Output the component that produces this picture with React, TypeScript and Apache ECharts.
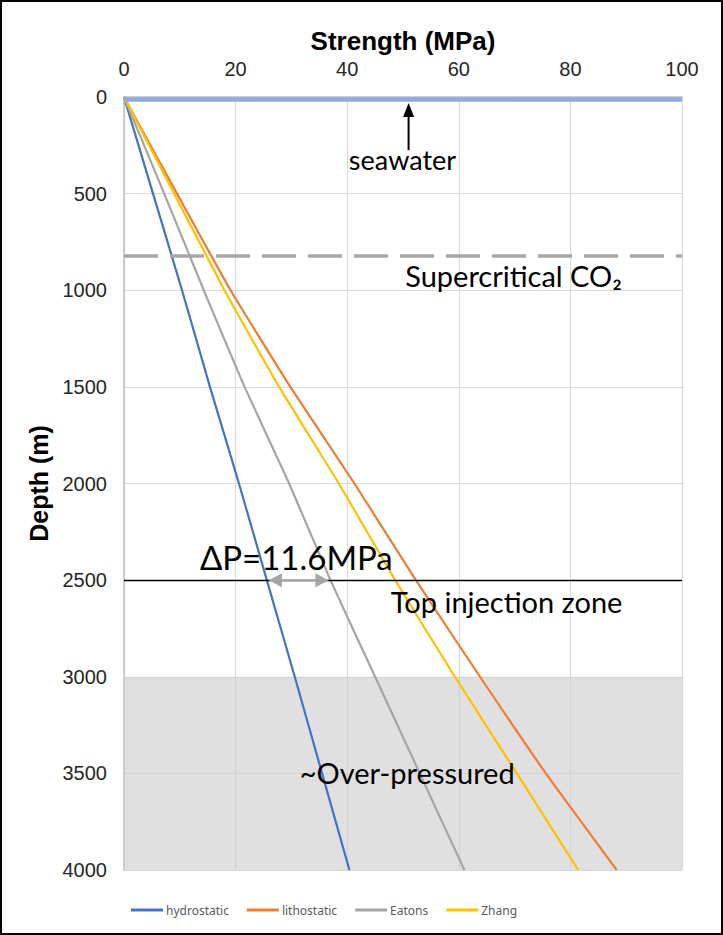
import React, { useEffect, useRef } from "react";
import * as echarts from "echarts";

// ---- data ----
const depths = [0, 500, 1000, 1500, 2000, 2500, 3000, 3500, 4000];
const hydrostatic = [0, 5.2, 10.4, 15.4, 20.6, 25.6, 30.6, 35.5, 40.4];
const lithostatic = [0, 9.5, 19.1, 29.8, 41.3, 52.3, 63.8, 75.6, 88.3];
const eatons = [0, 7.2, 14.3, 21.6, 29.6, 37.0, 45.0, 53.0, 61.0];
const zhang = [0, 9.0, 18.0, 27.8, 38.5, 48.6, 59.3, 70.4, 81.4];
const seriesNames = ["hydrostatic", "lithostatic", "Eatons", "Zhang"];
const seriesColors = ["#4472C4", "#ED7D31", "#A5A5A5", "#FFC000"];

const strengthRange = [0, 100];
const strengthInterval = 20;
const depthRange = [0, 4000];
const depthInterval = 500;

const seawaterDepth = 10;
const supercriticalDepth = 820;
const injectionDepth = 2500;
const overpressureTop = 3000;

const FONT_ANN = "Lato";

export default function App() {
  const ref = useRef<HTMLDivElement>(null);

  useEffect(() => {
    if (!ref.current) return;
    const chart = echarts.init(ref.current, undefined, { renderer: "svg" });
    const allSeries = [hydrostatic, lithostatic, eatons, zhang];

    const option: any = {
      animation: false,
      backgroundColor: "#fff",
      grid: { left: 124, right: 41, top: 97, bottom: 65 },
      legend: {
        data: seriesNames,
        left: 126,
        top: 899,
        icon: "rect",
        itemWidth: 32,
        itemHeight: 3,
        itemGap: 18,
        textStyle: { fontFamily: "Noto Sans", fontSize: 12, color: "#595959", padding: [0, 0, 0, -2] },
      },
      xAxis: {
        type: "value",
        position: "top",
        min: strengthRange[0],
        max: strengthRange[1],
        interval: strengthInterval,
        name: "Strength (MPa)",
        nameLocation: "middle",
        nameGap: 42,
        nameTextStyle: { fontFamily: "Liberation Sans", fontWeight: "bold", fontSize: 26, color: "#000" },
        axisLine: { show: true, lineStyle: { color: "#BFBFBF", width: 1.5 } },
        axisTick: { show: false },
        axisLabel: { fontFamily: "Liberation Sans", fontSize: 20, color: "#262626", margin: 18 },
        splitLine: { show: true, lineStyle: { color: "#D9D9D9", width: 1.2 } },
      },
      yAxis: {
        type: "value",
        inverse: true,
        min: depthRange[0],
        max: depthRange[1],
        interval: depthInterval,
        name: "Depth (m)",
        nameLocation: "middle",
        nameGap: 70,
        nameTextStyle: { fontFamily: "Liberation Sans", fontWeight: "bold", fontSize: 25, color: "#000" },
        axisLine: { show: true, lineStyle: { color: "#BFBFBF", width: 1.5 } },
        axisTick: { show: false },
        axisLabel: {
          fontFamily: "Liberation Sans",
          fontSize: 20,
          color: "#262626",
          margin: 17,
          formatter: (v: number) => String(v),
        },
        splitLine: { show: true, lineStyle: { color: "#D9D9D9", width: 1.2 } },
      },
      series: [
        ...allSeries.map((vals, i) => ({
          name: seriesNames[i],
          type: "line",
          data: vals.map((v, k) => [v, depths[k]]),
          showSymbol: false,
          symbol: "none",
          smooth: 0.15,
          lineStyle: { color: seriesColors[i], width: 2.2 },
          itemStyle: { color: seriesColors[i] },
          z: 3,
        })),
        {
          name: "refs",
          type: "line",
          data: [],
          z: 4,
          markLine: {
            silent: true,
            symbol: "none",
            label: { show: false },
            data: [
              { yAxis: seawaterDepth, lineStyle: { color: "#8FAADC", width: 4.5, type: "solid" } },
              { yAxis: supercriticalDepth, lineStyle: { color: "#A6A6A6", width: 3.5, type: [34, 12] } },
              { yAxis: injectionDepth, lineStyle: { color: "#000", width: 1.3, type: "solid" } },
            ],
          },
        },
        {
          name: "overpressure",
          type: "line",
          data: [],
          z: 6,
          markArea: {
            silent: true,
            itemStyle: { color: "rgba(205,205,205,0.62)" },
            data: [[{ yAxis: overpressureTop }, { yAxis: depthRange[1] }]],
          },
        },
      ],
    };
    chart.setOption(option);

    const p = (x: number, y: number) => chart.convertToPixel({ gridIndex: 0 }, [x, y]) as number[];

    // annotation anchors (data coordinates)
    const arrowX = 51;
    const aTop = p(arrowX, 31);
    const aBot = p(arrowX, 275);
    const left = p(hydrostatic[5], injectionDepth);
    const right = p(eatons[5], injectionDepth);
    const sea = p(40.3, 326);
    const sc = p(50.4, 924);
    const dp = p(13.6, 2380);
    const tiz = p(47.8, 2613);
    const op = p(31.5, 3493);

    const annText = (pt: number[], text: string, size: number) => ({
      type: "text",
      x: pt[0],
      y: pt[1],
      z: 20,
      style: { text, fontFamily: FONT_ANN, fontSize: size, fill: "#000", textAlign: "left", textVerticalAlign: "middle" },
    });

    chart.setOption({
      graphic: [
        {
          type: "line",
          z: 20,
          shape: { x1: aBot[0], y1: aBot[1], x2: aTop[0], y2: aTop[1] + 10 },
          style: { stroke: "#000", lineWidth: 2 },
        },
        {
          type: "polygon",
          z: 20,
          shape: { points: [[aTop[0], aTop[1]], [aTop[0] - 5.5, aTop[1] + 14], [aTop[0] + 5.5, aTop[1] + 14]] },
          style: { fill: "#000" },
        },
        annText(sea, "seawater", 27),
        annText(sc, "Supercritical CO\u2082", 29),
        annText(dp, "\u0394P=11.6MPa", 33),
        annText(tiz, "Top injection zone", 29),
        annText(op, "~Over-pressured", 29),
        {
          type: "line",
          z: 19,
          shape: { x1: left[0] + 4, y1: left[1], x2: right[0] - 4, y2: right[1] },
          style: { stroke: "#A5A5A5", lineWidth: 2 },
        },
        {
          type: "polygon",
          z: 20,
          shape: { points: [[left[0] + 2, left[1]], [left[0] + 15, left[1] - 7], [left[0] + 15, left[1] + 7]] },
          style: { fill: "#A5A5A5" },
        },
        {
          type: "polygon",
          z: 20,
          shape: { points: [[right[0] - 2, right[1]], [right[0] - 15, right[1] - 7], [right[0] - 15, right[1] + 7]] },
          style: { fill: "#A5A5A5" },
        },
        {
          type: "rect",
          z: 100,
          shape: { x: 1, y: 1, width: 721, height: 933 },
          style: { fill: "none", stroke: "#000", lineWidth: 2 },
        },
      ],
    });

    return () => chart.dispose();
  }, []);

  return (
    <div
      ref={ref}
      style={{ position: "fixed", left: 0, top: 0, width: 723, height: 935, background: "#fff" }}
    />
  );
}
